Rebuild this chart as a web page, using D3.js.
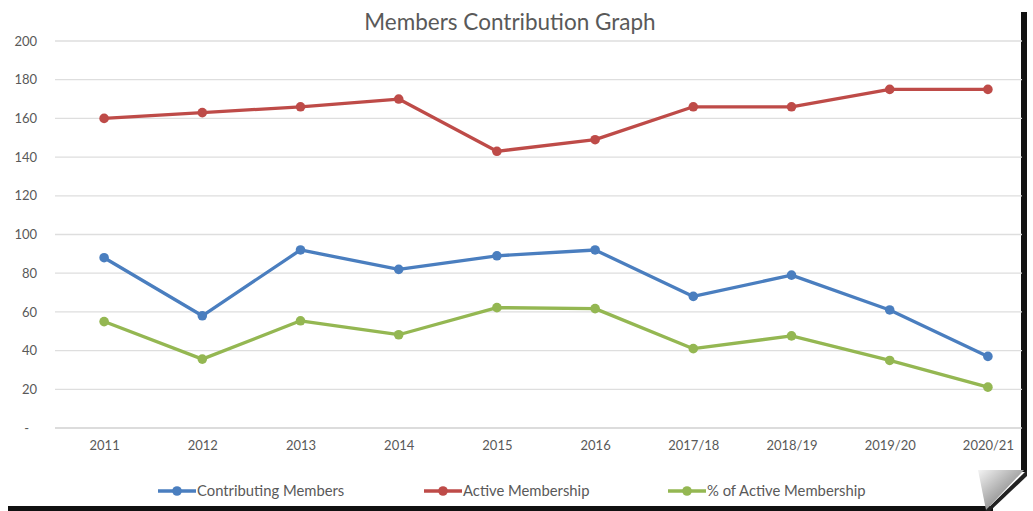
<!DOCTYPE html>
<html>
<head>
<meta charset="utf-8">
<script src="https://cdn.jsdelivr.net/npm/d3@7"></script>
<style>
html,body{margin:0;padding:0;background:#fff;}
svg{display:block;}
text{font-family:Lato,"Open Sans",sans-serif;}
</style>
</head>
<body>
<svg id="chart" width="1033" height="511"></svg>
<script>
const categories = ["2011","2012","2013","2014","2015","2016","2017/18","2018/19","2019/20","2020/21"];
const contributing = [88,58,92,82,89,92,68,79,61,37];
const active = [160,163,166,170,143,149,166,166,175,175];
const pctActive = [55,35.6,55.4,48.2,62.2,61.7,41,47.6,34.9,21.1];
const yTicks = [0,20,40,60,80,100,120,140,160,180,200];
const seriesNames = ["Contributing Members","Active Membership","% of Active Membership"];
const colors = ["#4A7EBF","#BE4B48","#94B752"];
const title = "Members Contribution Graph";

const svg = d3.select("#chart");
const m = {left:55, right:1022, top:41, bottom:428};

const x = d3.scalePoint().domain(categories).range([m.left, m.left + 98.2*10]).padding(0.5);
const y = d3.scaleLinear().domain([0,200]).range([m.bottom, m.top]);

// frame shadow
svg.append("rect").attr("x",1021).attr("y",12).attr("width",6).attr("height",460).attr("fill","#111");
svg.append("rect").attr("x",8).attr("y",506).attr("width",985).attr("height",5).attr("fill","#111");
// page curl
const defs = svg.append("defs");
const g1 = defs.append("linearGradient").attr("id","curl").attr("x1","0").attr("y1","0").attr("x2","1").attr("y2","1");
g1.append("stop").attr("offset","0").attr("stop-color","#f4f4f4");
g1.append("stop").attr("offset","0.6").attr("stop-color","#9a9a9a");
g1.append("stop").attr("offset","1").attr("stop-color","#555");
svg.append("path").attr("d","M1027,470 L1027,476 L990,511 L985,511 Z").attr("fill","#222");
svg.append("path").attr("d","M978,470 L1024,470 L986,510 Z").attr("fill","url(#curl)");

// gridlines
svg.append("g").selectAll("line").data(yTicks).join("line")
  .attr("x1",m.left).attr("x2",m.right)
  .attr("y1",d=>y(d)).attr("y2",d=>y(d))
  .attr("stroke",d=>d===0?"#d0d0d0":"#dedede").attr("stroke-width",1.3);

// y axis labels
const yAxis = d3.axisLeft(y).tickValues(yTicks).tickSize(0).tickPadding(0)
  .tickFormat(d=>d===0?"-":d);
const ya = svg.append("g").attr("transform","translate(37,0)").call(yAxis);
ya.select(".domain").remove();
ya.selectAll("text").attr("fill","#595959").style("font-size","13px").attr("dx", d=>d===0?"-8":"0");

// x axis labels
const xAxis = d3.axisBottom(x).tickSize(0).tickPadding(0);
const xa = svg.append("g").attr("transform","translate(0,441)").call(xAxis);
xa.select(".domain").remove();
xa.selectAll("text").attr("fill","#595959").style("font-size","13px");

// title
svg.append("text").attr("x",510).attr("y",30).attr("text-anchor","middle")
  .attr("fill","#595959").style("font-size","22.5px").text(title);

const all = [contributing, active, pctActive];
const line = d3.line().x((d,i)=>x(categories[i])).y(d=>y(d));
all.forEach((vals,si)=>{
  const g = svg.append("g");
  g.append("path").datum(vals).attr("d",line).attr("fill","none")
    .attr("stroke",colors[si]).attr("stroke-width",3.3).attr("stroke-linejoin","round");
  g.selectAll("circle").data(vals).join("circle")
    .attr("cx",(d,i)=>x(categories[i])).attr("cy",d=>y(d)).attr("r",4.8).attr("fill",colors[si]);
});

// legend
const legX = [158,424,668];
const lg = svg.append("g");
seriesNames.forEach((n,i)=>{
  const gx = legX[i], gy = 491;
  lg.append("line").attr("x1",gx).attr("x2",gx+38).attr("y1",gy).attr("y2",gy)
    .attr("stroke",colors[i]).attr("stroke-width",3.3);
  lg.append("circle").attr("cx",gx+19).attr("cy",gy).attr("r",4.8).attr("fill",colors[i]);
  lg.append("text").attr("x",gx+39).attr("y",gy+5).attr("fill","#595959")
    .style("font-size","14.8px").text(n);
});
</script>
</body>
</html>
